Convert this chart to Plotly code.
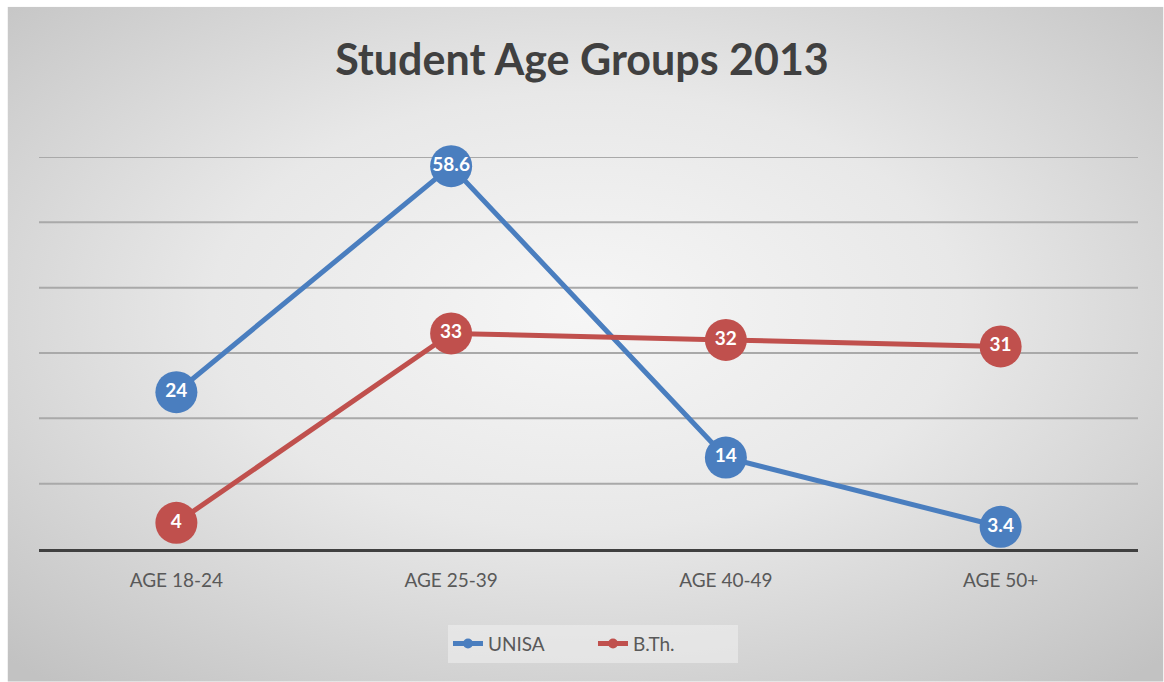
import base64
import plotly.graph_objects as go

categories = ["AGE 18-24", "AGE 25-39", "AGE 40-49", "AGE 50+"]
unisa = [24, 58.6, 14, 3.4]
bth = [4, 33, 32, 31]
unisa_labels = ["24", "58.6", "14", "3.4"]
bth_labels = ["4", "33", "32", "31"]
grid_values = [10, 20, 30, 40, 50, 60]

W, H = 1164, 682
L, R, T, B = 38.5, 25.5, 157.3, 132.7
pw, ph = W - L - R, H - T - B

BLUE = "#4A7EBF"
RED = "#C0504D"
FONT = "Lato"

svg = (
    '<svg xmlns="http://www.w3.org/2000/svg" width="1157" height="675" '
    'viewBox="0 0 1157 675" preserveAspectRatio="none">'
    '<defs><radialGradient id="g" cx="50%" cy="45%" r="72%">'
    '<stop offset="0" stop-color="#f6f6f6"/>'
    '<stop offset="0.45" stop-color="#e8e8e8"/>'
    '<stop offset="1" stop-color="#c2c2c2"/>'
    '</radialGradient></defs>'
    '<rect x="0" y="0" width="1157" height="675" fill="url(#g)"/></svg>'
)
src = "data:image/svg+xml;base64," + base64.b64encode(svg.encode()).decode()

fig = go.Figure()
for vals, labels, col in [(unisa, unisa_labels, BLUE), (bth, bth_labels, RED)]:
    fig.add_trace(go.Scatter(
        x=categories, y=vals, mode="lines+markers+text", text=labels,
        textposition="middle center",
        textfont=dict(family=FONT, size=19, color="white", weight="bold"),
        line=dict(color=col, width=5), marker=dict(size=42, color=col),
        showlegend=False, hoverinfo="skip", cliponaxis=False,
    ))
for name, col in [("UNISA", BLUE), ("B.Th.", RED)]:
    fig.add_trace(go.Scatter(
        x=[None], y=[None], mode="lines+markers", name=name,
        line=dict(color=col, width=5), marker=dict(size=10, color=col),
    ))

shapes = [dict(type="line", xref="paper", yref="y", x0=0, x1=1, y0=v, y1=v,
               line=dict(color="#a9a9a9", width=2), layer="below")
          for v in grid_values]

fig.update_layout(
    width=W, height=H,
    margin=dict(l=L, r=R, t=T, b=B),
    paper_bgcolor="white",
    plot_bgcolor="rgba(0,0,0,0)",
    title=dict(text="<b>Student Age Groups 2013</b>", x=0.5, xanchor="center",
               y=1 - 60 / H, yanchor="middle",
               font=dict(family=FONT, size=43, color="#404040")),
    xaxis=dict(showgrid=False, showline=True, linecolor="#404040", linewidth=3,
               ticks="", ticklabelstandoff=12, range=[-0.5, 3.5],
               tickfont=dict(family=FONT, size=19, color="#595959"),
               zeroline=False, fixedrange=True),
    yaxis=dict(range=[0, 60], showgrid=False, showticklabels=False,
               zeroline=False, showline=False, fixedrange=True),
    shapes=shapes,
    legend=dict(orientation="h", x=(593 - L) / pw, xanchor="center",
                y=1 - (625 - T) / ph, yanchor="top",
                bgcolor="rgba(238,238,238,0.6)",
                font=dict(family=FONT, size=19, color="#595959"),
                entrywidth=100, entrywidthmode="pixels"),
    images=[dict(source=src, xref="paper", yref="paper",
                 x=(7 - L) / pw, y=1 + (T - 7) / ph,
                 sizex=(W - 7) / pw, sizey=(H - 7) / ph,
                 xanchor="left", yanchor="top", sizing="stretch",
                 layer="below")],
    showlegend=True,
)

fig.write_html("out.html")
